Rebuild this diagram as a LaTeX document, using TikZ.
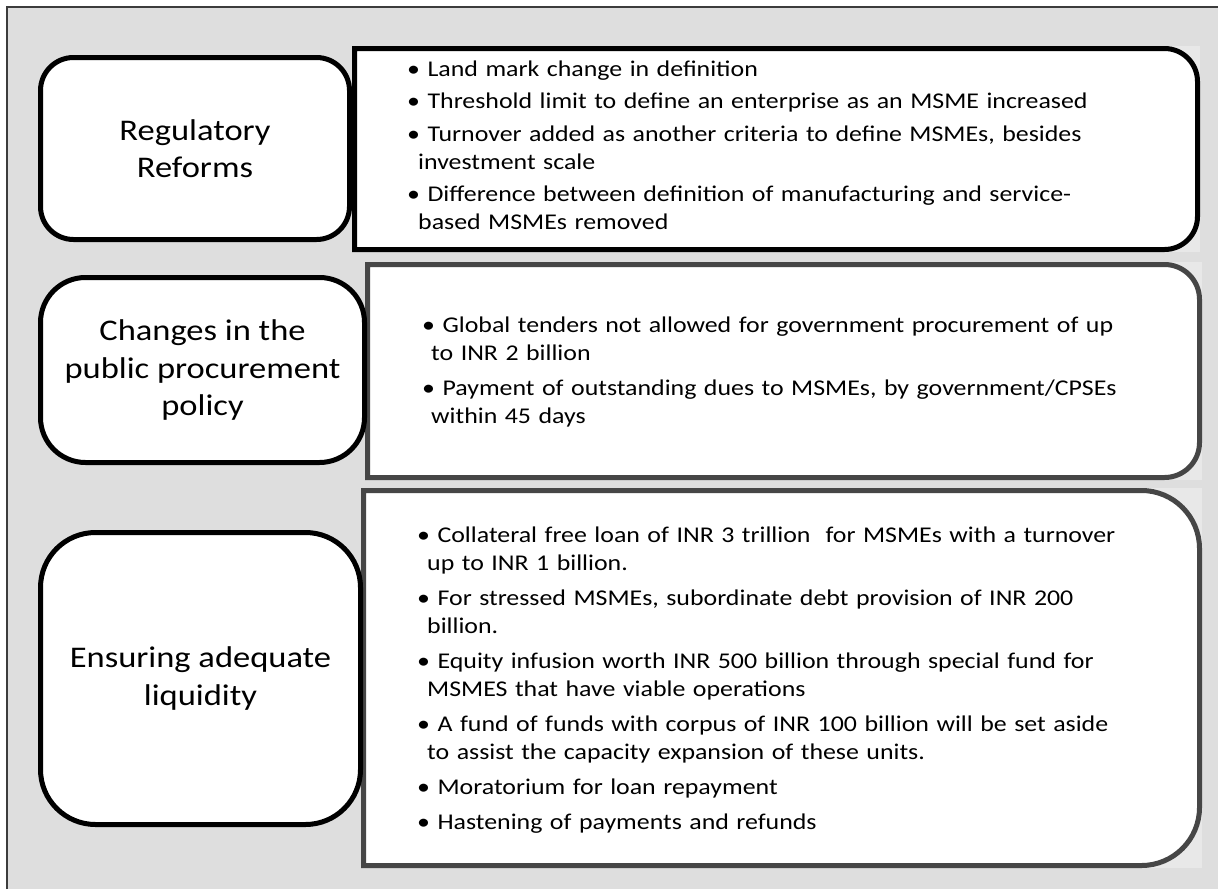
\documentclass[tikz,border=0pt]{standalone}
\usepackage{fontspec}
\setmainfont{Carlito}[FakeStretch=1.15]
\definecolor{bggray}{RGB}{222,222,222}
\definecolor{backgray}{RGB}{232,232,232}
\definecolor{framegray}{RGB}{60,60,60}
\definecolor{bevel}{RGB}{70,70,70}
\newlength\itemgap
\newcommand\fitem[2]{\hangindent=#1\hangafter=1 \rule{0pt}{20pt}•\ #2}
\newcommand\bitem[2]{\par\vspace{\itemgap}\hangindent=#1\hangafter=1 •\ #2}
\begin{document}
\begin{tikzpicture}[x=1pt,y=-1pt,
  lbox/.style={draw=black, line width=5pt, fill=white, align=center,
    inner sep=0pt, font=\fontsize{30}{37.5}\selectfont},
  rboxA/.style={draw=black, line width=5pt, fill=white},
  rboxB/.style={draw=bevel, line width=5pt, fill=white},
  rtext/.style={anchor=north west, inner sep=0pt, text width=790pt, align=left,
    font=\fontsize{22.5}{28}\selectfont}]
\useasboundingbox (0,0) rectangle (1218,889);
\fill[bggray] (7,7) rectangle (1218,889);
\draw[line width=1.5pt, framegray] (7,889) -- (7,7) -- (1218,7);

% light backing of right shapes
\fill[backgray] (352,46) rectangle (1200,252);
\fill[backgray] (365,262) rectangle (1202,480);
\fill[backgray] (361,488) rectangle (1202,868);

% right boxes
\draw[rboxA] (354.5,48.5) -- (1164.5,48.5) .. controls (1182.7,48.5) and (1197.5,63.3) .. (1197.5,81.5)
  -- (1197.5,216.5) .. controls (1197.5,234.7) and (1182.7,249.5) .. (1164.5,249.5) -- (354.5,249.5) -- cycle;
\draw[rboxB] (367.5,264.5) -- (1164.5,264.5) .. controls (1183.8,264.5) and (1199.5,280.2) .. (1199.5,299.5)
  -- (1199.5,442.5) .. controls (1199.5,461.8) and (1183.8,477.5) .. (1164.5,477.5) -- (367.5,477.5) -- cycle;
\draw[rboxB] (363.5,490.5) -- (1141.5,490.5) .. controls (1173.5,490.5) and (1199.5,516.5) .. (1199.5,548.5)
  -- (1199.5,807.5) .. controls (1199.5,839.5) and (1173.5,865.5) .. (1141.5,865.5) -- (363.5,865.5) -- cycle;

% left boxes
\node[lbox, rounded corners=33pt, minimum width=309pt, minimum height=182pt] (reg) at (195,148.5)
  {Regulatory\\Reforms};
\node[lbox, rounded corners=45pt, minimum width=324pt, minimum height=185pt] (proc) at (202.5,370)
  {Changes in the\\public procurement\\policy};
\node[lbox, rounded corners=55pt, minimum width=320pt, minimum height=292pt] (liq) at (200.5,678.5)
  {Ensuring adequate\\liquidity};

% right texts
\node[rtext] (regtext) at (407,56) {\raggedright\setlength{\parskip}{0pt}\setlength{\itemgap}{4.5pt}%
  \fitem{11pt}{Land mark change in definition}%
  \bitem{11pt}{Threshold limit to define an enterprise as an MSME increased}%
  \bitem{11pt}{Turnover added as another criteria to define MSMEs, besides\newline investment scale}%
  \bitem{11pt}{Difference between definition of manufacturing and service-\newline based MSMEs removed}\par};
\node[rtext] (proctext) at (422,312) {\raggedright\setlength{\parskip}{0pt}\setlength{\itemgap}{7pt}%
  \fitem{9pt}{Global tenders not allowed for government procurement of up\newline to INR 2 billion}%
  \bitem{9pt}{Payment of outstanding dues to MSMEs, by government/CPSEs\newline within 45 days}\par};
\node[rtext] (liqtext) at (417,522) {\raggedright\setlength{\parskip}{0pt}\setlength{\itemgap}{7pt}%
  \fitem{10pt}{Collateral free loan of INR 3 trillion\ \ for MSMEs with a turnover\newline up to INR 1 billion.}%
  \bitem{10pt}{For stressed MSMEs, subordinate debt provision of INR 200\newline billion.}%
  \bitem{10pt}{Equity infusion worth INR 500 billion through special fund for\newline MSMES that have viable operations}%
  \bitem{10pt}{A fund of funds with corpus of INR 100 billion will be set aside\newline to assist the capacity expansion of these units.}%
  \bitem{10pt}{Moratorium for loan repayment}%
  \bitem{10pt}{Hastening of payments and refunds}\par};
\end{tikzpicture}
\end{document}
